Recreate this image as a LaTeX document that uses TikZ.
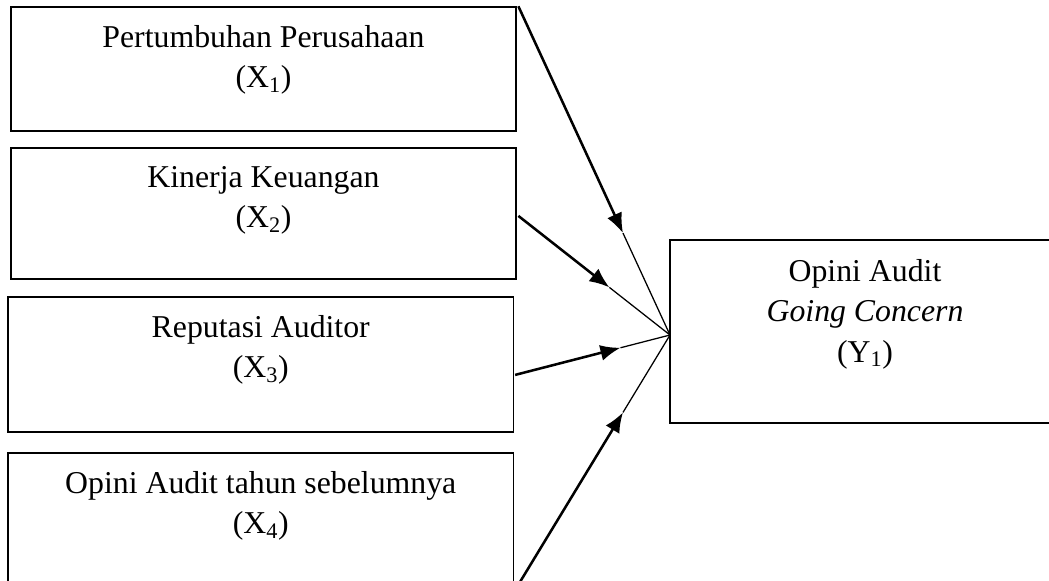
\documentclass[tikz,border=0pt]{standalone}
\usepackage{fontspec}
\setmainfont{Liberation Serif}
\usetikzlibrary{arrows.meta,calc}

\begin{document}
\begin{tikzpicture}[x=0.025cm,y=-0.025cm,
  box/.style={draw,line width=1pt,inner sep=0pt},
  txt/.style={anchor=north,yshift=-0.47cm,inner sep=0pt,align=center,font=\fontsize{22.6}{28.8}\selectfont},
  thk/.style={line width=1.8pt,-{Latex[length=0.5cm,width=0.4cm]}},
  thn/.style={line width=0.9pt}]
\useasboundingbox (0,0) rectangle (1049,580);
\clip (0,0) rectangle (1049,580);
\node[box,minimum width=12.625cm,minimum height=3.1cm,label={[txt]north:Pertumbuhan Perusahaan\\(X\textsubscript{1})}] (x1) at (263.5,69) {};
\node[box,minimum width=12.625cm,minimum height=3.275cm,label={[txt]north:Kinerja Keuangan\\(X\textsubscript{2})}] (x2) at (263.5,213.5) {};
\node[box,minimum width=12.64cm,minimum height=3.375cm,label={[txt]north:Reputasi Auditor\\(X\textsubscript{3})}] (x3) at (260.75,364.5) {};
\node[box,minimum width=12.64cm,minimum height=3.275cm,label={[txt]north:Opini Audit tahun sebelumnya\\(X\textsubscript{4})}] (x4) at (260.75,518.5) {};
\node[box,minimum width=9.75cm,minimum height=4.575cm,label={[txt,yshift=-0.02cm]north:Opini Audit\\\textit{Going Concern}\\(Y\textsubscript{1})}] (y1) at (865,331.5) {};
\coordinate (p) at (670,335);
\coordinate (s1) at ([xshift=0.04cm]x1.north east);
\coordinate (s2) at ([xshift=0.04cm,yshift=-0.06cm]x2.east);
\coordinate (s3) at ([xshift=0.02cm,yshift=-0.26cm]x3.east);
\coordinate (s4) at ([xshift=0.1cm]x4.south east);
\draw[thk] (s1) -- ($(s1)!0.69!(p)$) coordinate (a1);
\draw[thn] (a1) -- (p);
\draw[thk] (s2) -- ($(s2)!0.6!(p)$) coordinate (a2);
\draw[thn] (a2) -- (p);
\draw[thk] (s3) -- ($(s3)!0.68!(p)$) coordinate (a3);
\draw[thn] (a3) -- (p);
\draw[thk] (s4) -- ($(s4)!0.69!(p)$) coordinate (a4);
\draw[thn] (a4) -- (p);
\end{tikzpicture}
\end{document}
